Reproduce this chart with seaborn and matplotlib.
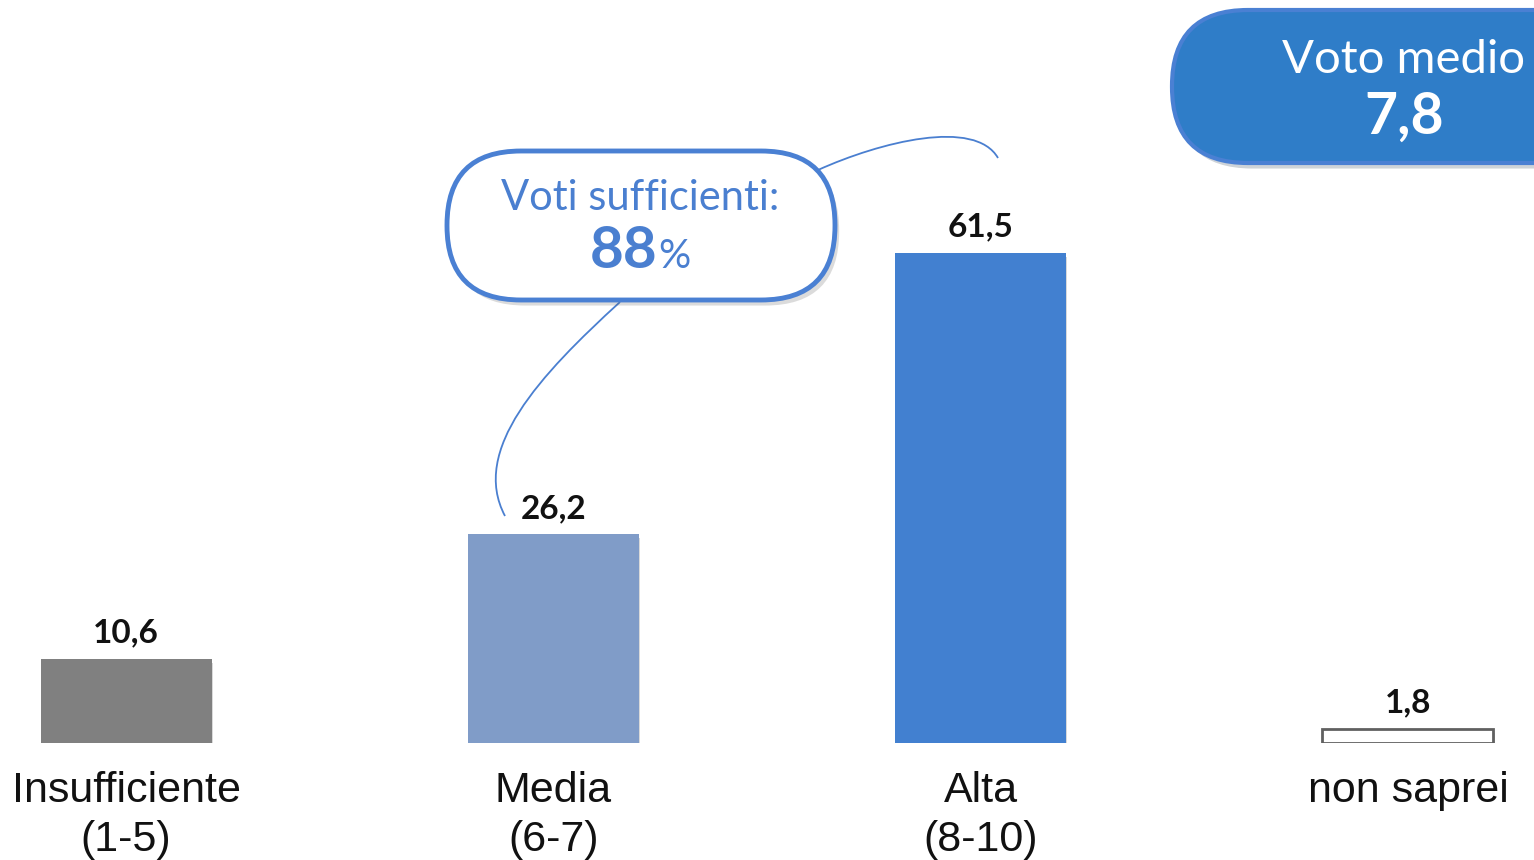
import numpy as np
import pandas as pd
import matplotlib.pyplot as plt
import seaborn as sns
from matplotlib.patches import FancyBboxPatch, PathPatch
from matplotlib.path import Path
import matplotlib.patheffects as pe

# -----------------------------------
# DATA
# -----------------------------------

categories = ["Insufficiente\n(1-5)", "Media\n(6-7)", "Alta\n(8-10)", "non saprei"]
values = [10.6, 26.2, 61.5, 1.8]
bar_colors = ["#808080", "#809CC8", "#4280D0", "#FFFFFF"]
edge_colors = ["#808080", "#809CC8", "#4280D0", "#606060"]
edge_widths = [0, 0, 0, 2]
value_labels = [f"{v:.1f}".replace(".", ",") for v in values]

voto_medio = "7,8"
sufficienti = "88"

df = pd.DataFrame({"cat": categories, "val": values})

# -----------------------------------
# FIGURE
# -----------------------------------

sns.set_style("white")
plt.rcParams["font.family"] = ["Liberation Sans", "DejaVu Sans"]

fig = plt.figure(figsize=(15.34, 8.6), dpi=100)
ax = fig.add_axes([0, 0.136, 1, 0.864])

sns.barplot(data=df, x="cat", y="val", hue="cat", palette=bar_colors,
            width=0.4, legend=False, ax=ax, saturation=1)

shadow = [pe.SimplePatchShadow(offset=(1, -3), shadow_rgbFace="#000000", alpha=0.15), pe.Normal()]
for patch, ec, lw in zip(ax.patches, edge_colors, edge_widths):
    patch.set_edgecolor(ec)
    patch.set_linewidth(lw)
    patch.set_path_effects(shadow)

for cont, lab in zip(ax.containers, value_labels):
    ax.bar_label(cont, labels=[lab], padding=8, fontsize=24, fontweight="bold",
                 family=["Lato", "DejaVu Sans"], color="#111111")

ax.set_xlim(-0.295, 3.295)
ax.set_ylim(0, 93.2)
ax.set_xlabel("")
ax.set_ylabel("")
ax.set_yticks([])
ax.tick_params(axis="x", length=0, pad=20, labelsize=31, colors="#111111")
for t in ax.get_xticklabels():
    t.set_linespacing(1.3)
sns.despine(ax=ax, left=True, bottom=True)

# -----------------------------------
# ANNOTATIONS (pixel overlay)
# -----------------------------------

ov = fig.add_axes([0, 0, 1, 1], facecolor="none")
ov.set_xlim(0, 1534)
ov.set_ylim(860, 0)
ov.axis("off")

box_shadow = [pe.SimplePatchShadow(offset=(3, -4), alpha=0.2), pe.Normal()]

# voto medio box
vm = FancyBboxPatch((1172, 10), 500, 153, boxstyle="round,pad=0,rounding_size=76",
                    facecolor="#2F7DC8", edgecolor="#4A80D3", linewidth=3, zorder=2)
vm.set_path_effects(box_shadow)
ov.add_patch(vm)
ov.text(1403, 60, "Voto medio", ha="center", va="center", fontsize=34,
        color="white", family=["Lato", "DejaVu Sans"], zorder=3)
ov.text(1404, 117, voto_medio, ha="center", va="center", fontsize=41,
        fontweight="bold", color="white", family=["Lato", "DejaVu Sans"], zorder=3)

# bubble
bub = FancyBboxPatch((447, 151), 388, 149, boxstyle="round,pad=0,rounding_size=74",
                     facecolor="white", edgecolor="#4A80D3", linewidth=3.5, zorder=2)
bub.set_path_effects(box_shadow)
ov.add_patch(bub)
ov.text(640, 198, "Voti sufficienti:", ha="center", va="center", fontsize=30,
        color="#4A7FD0", family=["Lato", "DejaVu Sans"], zorder=3)
ov.text(657, 252, sufficienti, ha="right", va="center", fontsize=42, fontweight="bold",
        color="#4A7FD0", family=["Lato", "DejaVu Sans"], zorder=3)
ov.text(658, 257, "%", ha="left", va="center", fontsize=29,
        color="#4A7FD0", family=["Lato", "DejaVu Sans"], zorder=3)

# connector curves
low = Path([(620, 302), (540, 375), (470, 450), (505, 516)],
           [Path.MOVETO, Path.CURVE4, Path.CURVE4, Path.CURVE4])
ov.add_patch(PathPatch(low, facecolor="none", edgecolor="#4A7FD0", linewidth=1.3, zorder=1))
up = Path([(818, 170), (880, 142), (975, 118), (998, 158)],
          [Path.MOVETO, Path.CURVE4, Path.CURVE4, Path.CURVE4])
ov.add_patch(PathPatch(up, facecolor="none", edgecolor="#4A7FD0", linewidth=1.3, zorder=1))

plt.savefig("out.png", dpi=100)
